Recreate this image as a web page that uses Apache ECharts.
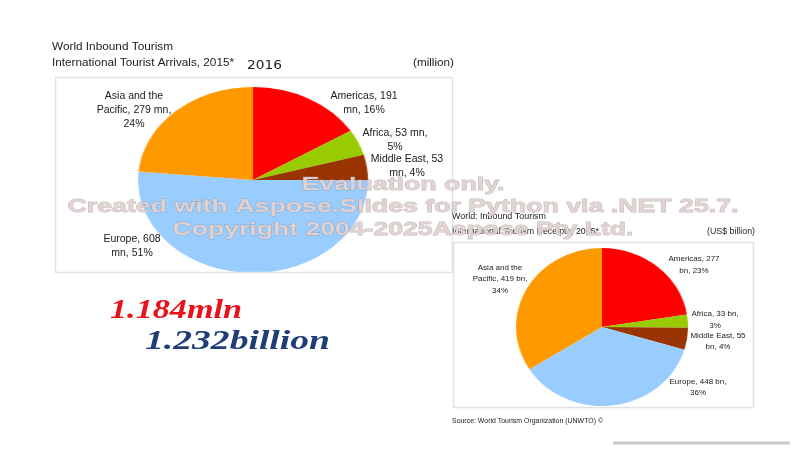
<!DOCTYPE html>
<html><head><meta charset="utf-8">
<script src="https://cdn.jsdelivr.net/npm/echarts@6/dist/echarts.min.js"></script>
<style>
html,body{margin:0;padding:0;background:#fff;}
#wrap{position:relative;width:800px;height:450px;overflow:hidden;background:#fff;}
#main{position:absolute;left:0;top:0;width:800px;height:450px;z-index:2;}
.pie{position:absolute;z-index:1;transform-origin:50% 50%;}
</style></head><body>
<div id="wrap">
<div id="pie1" class="pie"></div>
<div id="pie2" class="pie"></div>
<div id="main"></div>
</div>
<script>
// ---- data ----
const regions = ['Americas', 'Africa', 'Middle East', 'Europe', 'Asia and the Pacific'];
const arrivals = [191, 53, 53, 608, 279];          // million
const arrivalsPct = [16, 5, 4, 51, 24];
const receipts = [277, 33, 55, 448, 419];          // US$ billion
const receiptsPct = [23, 3, 4, 36, 34];
const totalsText = ['1.184mln', '1.232billion'];
const chart1Titles = ['World Inbound Tourism', 'International Tourist Arrivals, 2015*', '(million)', '2016'];
const chart2Titles = ['World: Inbound Tourism', 'International Tourism Receipts, 2015*', '(US$ billion)', 'Source: World Tourism Organization (UNWTO) \u00a9'];
const watermark = ['Evaluation only.', 'Created with Aspose.Slides for Python via .NET 25.7.', 'Copyright 2004-2025Aspose Pty Ltd.'];

// ---- styles / layout ----
const regionColors = ['#ff0000', '#99cc00', '#993300', '#99ccff', '#ff9900'];
const SANS = 'Liberation Sans';

function makePie(id, values, cx, cy, rx, ry) {
  const el = document.getElementById(id);
  const size = 2 * ry + 6;
  el.style.width = size + 'px';
  el.style.height = size + 'px';
  el.style.left = (cx - size / 2) + 'px';
  el.style.top = (cy - size / 2) + 'px';
  el.style.transform = 'scaleX(' + (rx / ry) + ')';
  const c = echarts.init(el, null, { renderer: 'canvas' });
  c.setOption({
    animation: false,
    series: [{
      type: 'pie', radius: ry, center: ['50%', '50%'], startAngle: 90, clockwise: true,
      label: { show: false }, labelLine: { show: false }, emphasis: { disabled: true },
      itemStyle: { borderWidth: 0 },
      data: regions.map((n, i) => ({ name: n, value: values[i], itemStyle: { color: regionColors[i] } }))
    }]
  });
}
makePie('pie1', arrivals, 253, 180, 115, 93);
makePie('pie2', receipts, 602, 327, 86, 79);

const mctx = document.createElement('canvas').getContext('2d');
function measure(text, font) { mctx.font = font; return mctx.measureText(text).width; }
function txt(text, x, y, o) {
  const family = o.family || SANS;
  const font = (o.style || 'normal') + ' ' + (o.weight || 'normal') + ' ' + o.size + 'px ' + family;
  let sx = 1;
  if (o.w) sx = o.w / measure(text, font);
  const st = {
    text: text, fontSize: o.size, fontFamily: family, fontWeight: o.weight || 'normal',
    fontStyle: o.style || 'normal', fill: o.color || '#222', align: o.align || 'left', verticalAlign: 'middle'
  };
  if (o.stroke) { st.stroke = o.stroke; st.lineWidth = o.lw || 1; }
  if (o.shadow) { st.shadowColor = o.shadow; st.shadowBlur = 1.5; st.shadowOffsetX = 1; st.shadowOffsetY = 1; }
  return { type: 'text', x: x, y: y, scaleX: sx, z: o.z || 10, silent: true, style: st };
}
// break a label string into lines after the given word counts
function wrapWords(text, breaks) {
  const words = text.split(' ');
  const lines = [];
  let start = 0;
  breaks.concat([words.length]).forEach(b => { lines.push(words.slice(start, b).join(' ')); start = b; });
  return lines.join('\n');
}
function label(text, x, y, size, lh) {
  return {
    type: 'text', x: x, y: y, z: 10, silent: true,
    style: {
      text: text, fontSize: size, fontFamily: SANS, lineHeight: lh,
      fill: '#1a1a1a', align: 'center', verticalAlign: 'middle'
    }
  };
}

// label layout: [x, y, word-break positions]
const label1Pos = [[364, 103, [2]], [395, 140, [3]], [407, 166, [3]], [132, 246.5, [2]], [134, 110, [3, 6]]];
const label2Pos = [[694, 265, [2]], [715, 320, [3]], [718, 341.5, [3]], [698, 387.5, [3]], [500, 279, [3, 6]]];

const els = [];
// boxes
els.push({ type: 'rect', z: 5, silent: true, shape: { x: 55.5, y: 77.5, width: 397, height: 195 }, style: { fill: 'none', stroke: '#e2e2e2', lineWidth: 1.5 } });
els.push({ type: 'rect', z: 5, silent: true, shape: { x: 453.5, y: 242.5, width: 300, height: 165 }, style: { fill: 'none', stroke: '#e2e2e2', lineWidth: 1.5 } });
els.push({ type: 'rect', z: 5, silent: true, shape: { x: 613, y: 441.5, width: 177, height: 3 }, style: { fill: '#c9c9c9' } });

// chart 1 titles
els.push(txt(chart1Titles[0], 52, 47, { size: 11, w: 121 }));
els.push(txt(chart1Titles[1], 52, 63, { size: 11, w: 182 }));
els.push(txt(chart1Titles[2], 454, 63, { size: 11, w: 41, align: 'right' }));
els.push(txt(chart1Titles[3], 247, 66, { size: 13, w: 35, family: 'DejaVu Sans' }));
// chart 2 titles
els.push(txt(chart2Titles[0], 452, 217, { size: 9, w: 94 }));
els.push(txt(chart2Titles[1], 452, 232, { size: 9, w: 147 }));
els.push(txt(chart2Titles[2], 755, 232, { size: 9, w: 48, align: 'right' }));
els.push(txt(chart2Titles[3], 452, 421, { size: 7.5, w: 151 }));

// pie labels
regions.forEach((n, i) => {
  const p = label1Pos[i];
  els.push(label(wrapWords(n + ', ' + arrivals[i] + ' mn, ' + arrivalsPct[i] + '%', p[2]), p[0], p[1], 10.5, 14));
  const q = label2Pos[i];
  els.push(label(wrapWords(n + ', ' + receipts[i] + ' bn, ' + receiptsPct[i] + '%', q[2]), q[0], q[1], 8, 11.5));
});

// totals
els.push(txt(totalsText[0], 110, 311, { size: 27, w: 132, family: 'Liberation Serif', weight: 'bold', style: 'italic', color: '#e8121c' }));
els.push(txt(totalsText[1], 145, 342, { size: 27, w: 185, family: 'Liberation Serif', weight: 'bold', style: 'italic', color: '#1f3e78' }));

// watermark
const wmY = [185.5, 207, 230];
const wmW = [203, 671, 461];
watermark.forEach((t, i) => {
  els.push(txt(t, 403, wmY[i], { size: 18, w: wmW[i], weight: 'bold', align: 'center', color: 'rgba(226,210,210,0.95)', stroke: 'rgba(150,135,135,0.55)', lw: 0.8, shadow: 'rgba(70,60,60,0.55)', z: 20 }));
});

const chart = echarts.init(document.getElementById('main'), null, { renderer: 'canvas' });
chart.setOption({ animation: false, backgroundColor: 'transparent', graphic: { elements: els } });
</script>
</body></html>
